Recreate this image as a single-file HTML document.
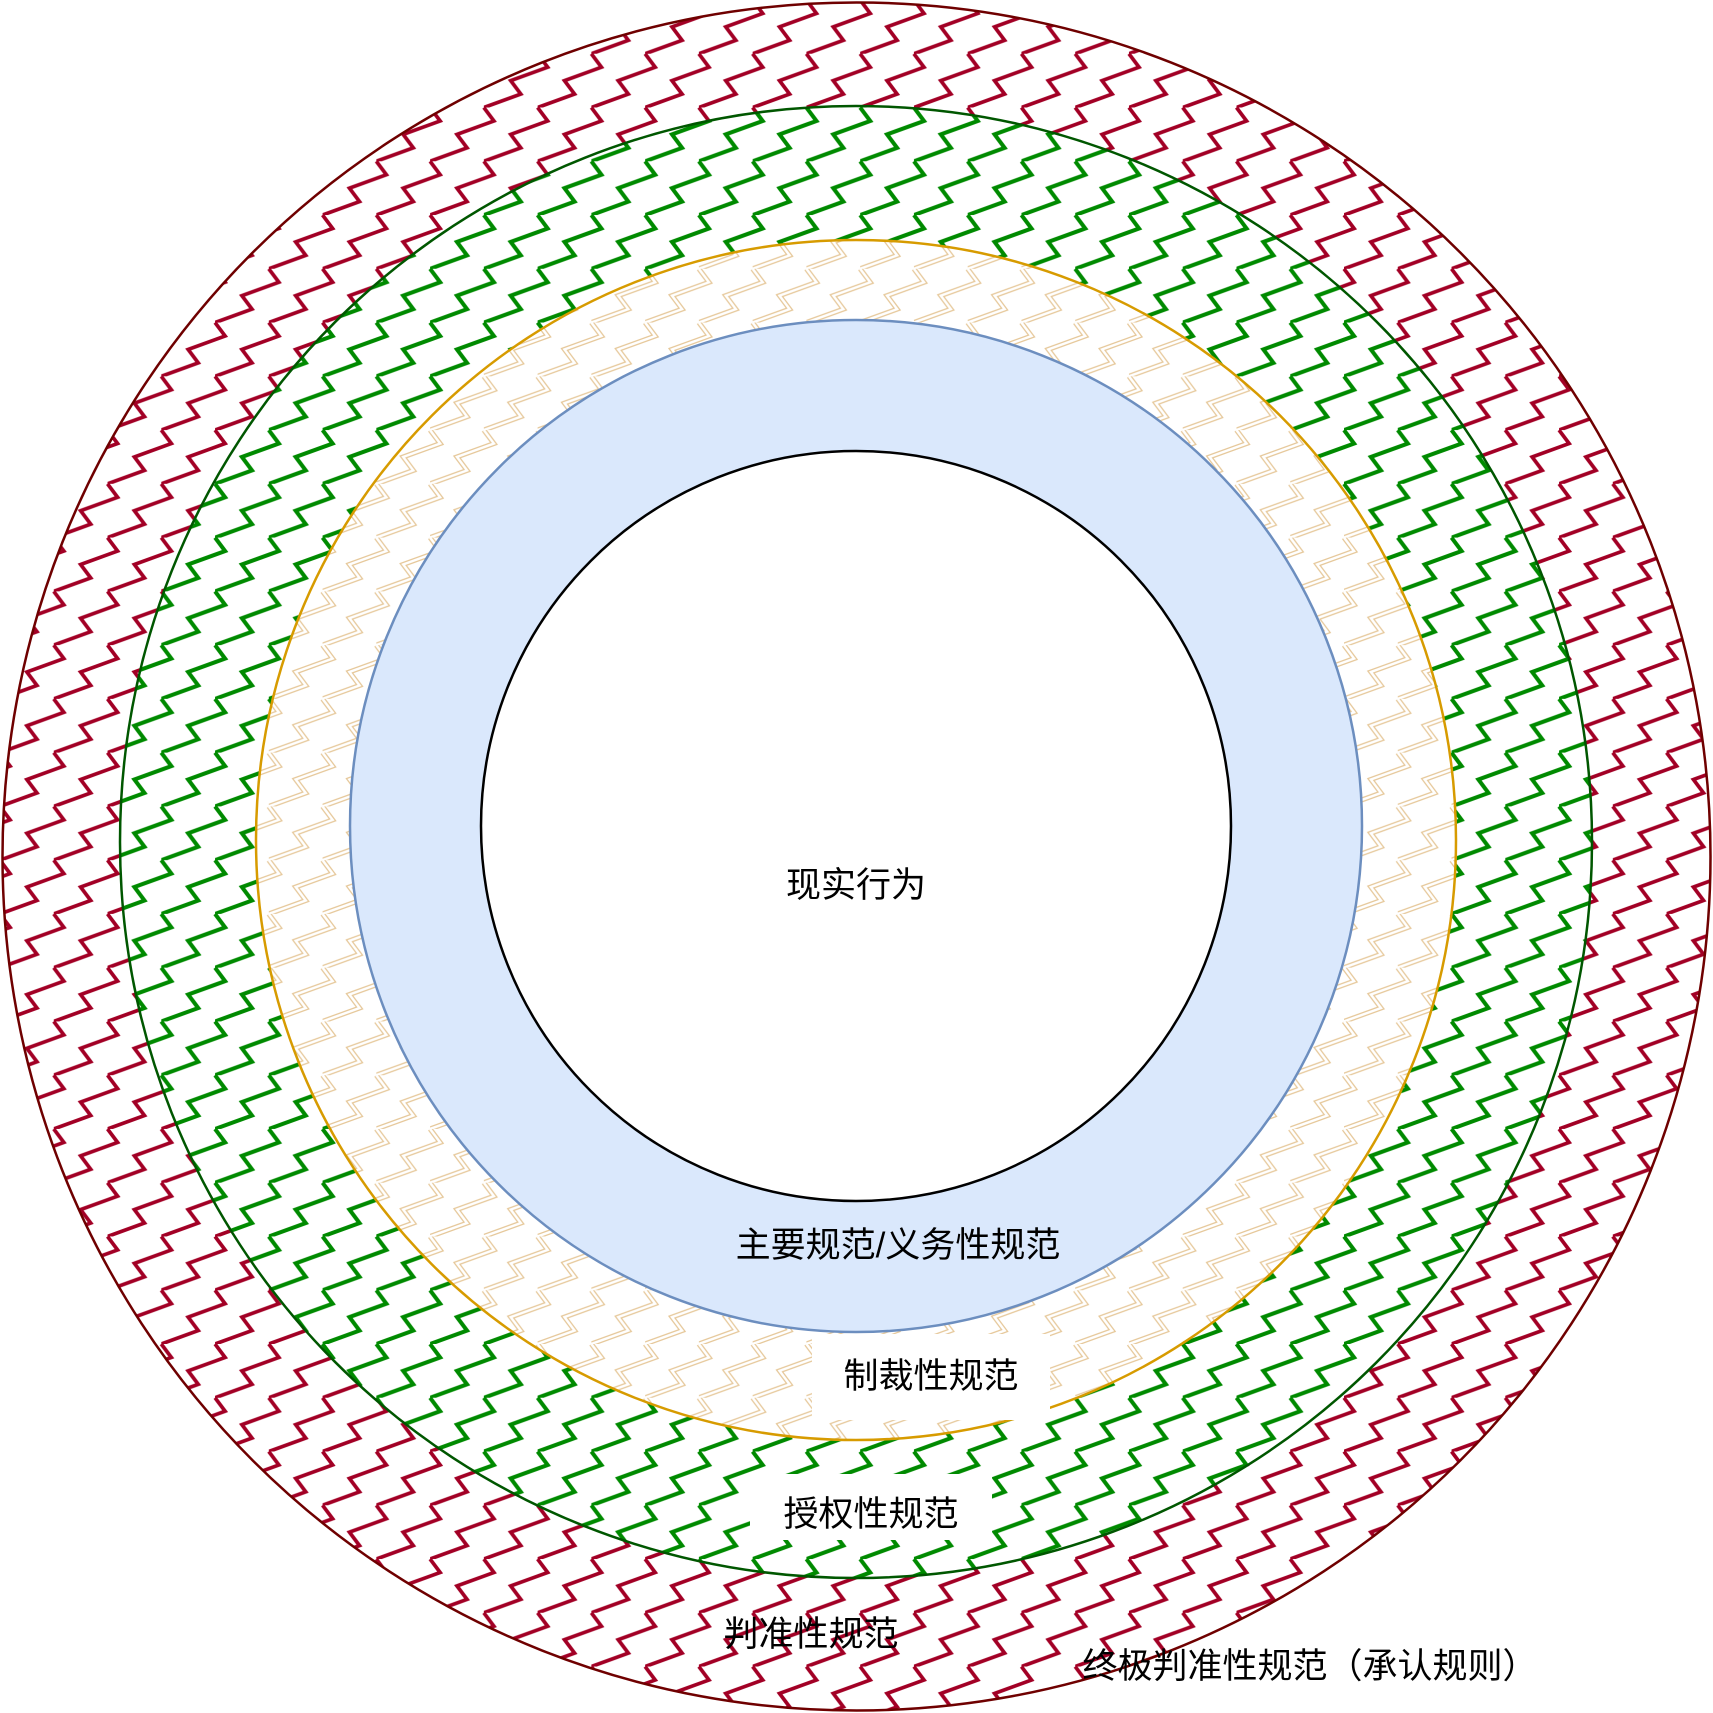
<!DOCTYPE html>
<html><head><meta charset="utf-8"><style>
html,body{margin:0;padding:0;background:#fff;}
svg{display:block}
text{font-family:"Liberation Sans","Noto Sans CJK SC",sans-serif;font-size:35px;fill:#000}
</style></head><body>
<svg width="1713" height="1713" viewBox="0 0 1713 1713" xmlns="http://www.w3.org/2000/svg">
<defs>
<pattern id="pr" width="48" height="48" patternUnits="userSpaceOnUse" patternTransform="scale(1.12)">
<path d="M-48,48 l33,-12 l-9,-12 l33,-12 l-9,-12 M0,48 l33,-12 l-9,-12 l33,-12 l-9,-12 M-24,24 l33,-12 l-9,-12 M24,24 l33,-12 l-9,-12 M24,72 l33,-12 l-9,-12 M-24,72 l33,-12 l-9,-12" fill="none" stroke="#a20025" stroke-width="3.3"/>
</pattern>
<pattern id="pg" width="48" height="48" patternUnits="userSpaceOnUse" patternTransform="scale(1.12)">
<path d="M-48,48 l33,-12 l-9,-12 l33,-12 l-9,-12 M0,48 l33,-12 l-9,-12 l33,-12 l-9,-12 M-24,24 l33,-12 l-9,-12 M24,24 l33,-12 l-9,-12 M24,72 l33,-12 l-9,-12 M-24,72 l33,-12 l-9,-12" fill="none" stroke="#008a00" stroke-width="3.6"/>
</pattern>
<pattern id="po" width="48" height="48" patternUnits="userSpaceOnUse" patternTransform="scale(1.12)">
<path d="M-48,48 l33,-12 l-9,-12 l33,-12 l-9,-12 M0,48 l33,-12 l-9,-12 l33,-12 l-9,-12 M-24,24 l33,-12 l-9,-12 M24,24 l33,-12 l-9,-12 M24,72 l33,-12 l-9,-12 M-24,72 l33,-12 l-9,-12" fill="none" stroke="#e6c89a" stroke-width="4.5"/>
<path d="M-48,48 l33,-12 l-9,-12 l33,-12 l-9,-12 M0,48 l33,-12 l-9,-12 l33,-12 l-9,-12 M-24,24 l33,-12 l-9,-12 M24,24 l33,-12 l-9,-12 M24,72 l33,-12 l-9,-12 M-24,72 l33,-12 l-9,-12" fill="none" stroke="#fff" stroke-width="2.2"/>
</pattern>
</defs>
<circle cx="856.5" cy="856.5" r="854" fill="#fff"/>
<circle cx="856.5" cy="856.5" r="854" fill="url(#pr)" stroke="#6f0000" stroke-width="2.5"/>
<circle cx="856" cy="842" r="736" fill="#fff"/>
<circle cx="856" cy="842" r="736" fill="url(#pg)" stroke="#005700" stroke-width="2.5"/>
<circle cx="856" cy="840" r="600" fill="#fff"/>
<circle cx="856" cy="840" r="600" fill="url(#po)" stroke="#d79b00" stroke-width="2.5"/>
<circle cx="856" cy="826" r="506" fill="#dae8fc" stroke="#6c8ebf" stroke-width="2.5"/>
<circle cx="856" cy="826" r="375" fill="#fff" stroke="#000" stroke-width="2.5"/>
<rect x="812" y="1334" width="238" height="86" fill="#fff"/>
<rect x="750" y="1474" width="242" height="66" fill="#fff"/>
<text x="856" y="897" text-anchor="middle">现实行为</text>
<text x="898" y="1257" text-anchor="middle">主要规范/义务性规范</text>
<text x="931" y="1388" text-anchor="middle">制裁性规范</text>
<text x="871" y="1526" text-anchor="middle">授权性规范</text>
<text x="811" y="1646" text-anchor="middle">判准性规范</text>
<text x="1310" y="1678" text-anchor="middle">终极判准性规范（承认规则）</text>
</svg>
</body></html>
